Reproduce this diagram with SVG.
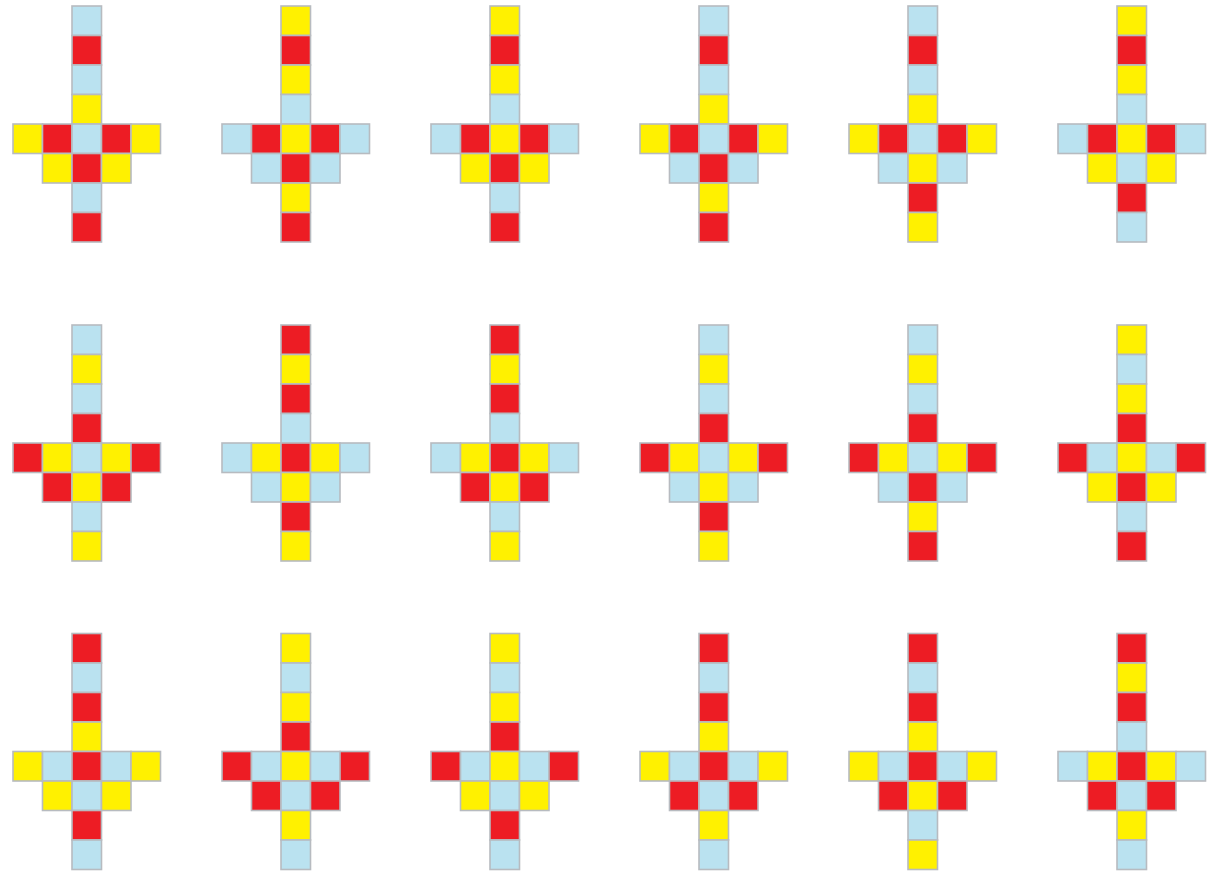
<svg xmlns="http://www.w3.org/2000/svg" width="1211" height="873" viewBox="0 0 1211 873">
<style>
rect{width:29.5px;height:29.5px;stroke:#B7BBC0;stroke-width:1.6}
.b{fill:#BAE2F0}.r{fill:#ED1C24}.y{fill:#FFF100}
</style>
<rect x="0" y="0" width="1211" height="873" fill="#FFFFFF" style="width:1211px;height:873px;stroke:none"/>
<g id="s1" transform="translate(13,6)"><rect class="b" x="59" y="0"/><rect class="r" x="59" y="29.5"/><rect class="b" x="59" y="59"/><rect class="y" x="59" y="88.5"/><rect class="y" x="0" y="118"/><rect class="r" x="29.5" y="118"/><rect class="b" x="59" y="118"/><rect class="r" x="88.5" y="118"/><rect class="y" x="118" y="118"/><rect class="y" x="29.5" y="147.5"/><rect class="r" x="59" y="147.5"/><rect class="y" x="88.5" y="147.5"/><rect class="b" x="59" y="177"/><rect class="r" x="59" y="206.5"/></g>
<g id="s2" transform="translate(222,6)"><rect class="y" x="59" y="0"/><rect class="r" x="59" y="29.5"/><rect class="y" x="59" y="59"/><rect class="b" x="59" y="88.5"/><rect class="b" x="0" y="118"/><rect class="r" x="29.5" y="118"/><rect class="y" x="59" y="118"/><rect class="r" x="88.5" y="118"/><rect class="b" x="118" y="118"/><rect class="b" x="29.5" y="147.5"/><rect class="r" x="59" y="147.5"/><rect class="b" x="88.5" y="147.5"/><rect class="y" x="59" y="177"/><rect class="r" x="59" y="206.5"/></g>
<g id="s3" transform="translate(431,6)"><rect class="y" x="59" y="0"/><rect class="r" x="59" y="29.5"/><rect class="y" x="59" y="59"/><rect class="b" x="59" y="88.5"/><rect class="b" x="0" y="118"/><rect class="r" x="29.5" y="118"/><rect class="y" x="59" y="118"/><rect class="r" x="88.5" y="118"/><rect class="b" x="118" y="118"/><rect class="y" x="29.5" y="147.5"/><rect class="r" x="59" y="147.5"/><rect class="y" x="88.5" y="147.5"/><rect class="b" x="59" y="177"/><rect class="r" x="59" y="206.5"/></g>
<g id="s4" transform="translate(640,6)"><rect class="b" x="59" y="0"/><rect class="r" x="59" y="29.5"/><rect class="b" x="59" y="59"/><rect class="y" x="59" y="88.5"/><rect class="y" x="0" y="118"/><rect class="r" x="29.5" y="118"/><rect class="b" x="59" y="118"/><rect class="r" x="88.5" y="118"/><rect class="y" x="118" y="118"/><rect class="b" x="29.5" y="147.5"/><rect class="r" x="59" y="147.5"/><rect class="b" x="88.5" y="147.5"/><rect class="y" x="59" y="177"/><rect class="r" x="59" y="206.5"/></g>
<g id="s5" transform="translate(849,6)"><rect class="b" x="59" y="0"/><rect class="r" x="59" y="29.5"/><rect class="b" x="59" y="59"/><rect class="y" x="59" y="88.5"/><rect class="y" x="0" y="118"/><rect class="r" x="29.5" y="118"/><rect class="b" x="59" y="118"/><rect class="r" x="88.5" y="118"/><rect class="y" x="118" y="118"/><rect class="b" x="29.5" y="147.5"/><rect class="y" x="59" y="147.5"/><rect class="b" x="88.5" y="147.5"/><rect class="r" x="59" y="177"/><rect class="y" x="59" y="206.5"/></g>
<g id="s6" transform="translate(1058,6)"><rect class="y" x="59" y="0"/><rect class="r" x="59" y="29.5"/><rect class="y" x="59" y="59"/><rect class="b" x="59" y="88.5"/><rect class="b" x="0" y="118"/><rect class="r" x="29.5" y="118"/><rect class="y" x="59" y="118"/><rect class="r" x="88.5" y="118"/><rect class="b" x="118" y="118"/><rect class="y" x="29.5" y="147.5"/><rect class="b" x="59" y="147.5"/><rect class="y" x="88.5" y="147.5"/><rect class="r" x="59" y="177"/><rect class="b" x="59" y="206.5"/></g>
<g id="s7" transform="translate(13,325)"><rect class="b" x="59" y="0"/><rect class="y" x="59" y="29.5"/><rect class="b" x="59" y="59"/><rect class="r" x="59" y="88.5"/><rect class="r" x="0" y="118"/><rect class="y" x="29.5" y="118"/><rect class="b" x="59" y="118"/><rect class="y" x="88.5" y="118"/><rect class="r" x="118" y="118"/><rect class="r" x="29.5" y="147.5"/><rect class="y" x="59" y="147.5"/><rect class="r" x="88.5" y="147.5"/><rect class="b" x="59" y="177"/><rect class="y" x="59" y="206.5"/></g>
<g id="s8" transform="translate(222,325)"><rect class="r" x="59" y="0"/><rect class="y" x="59" y="29.5"/><rect class="r" x="59" y="59"/><rect class="b" x="59" y="88.5"/><rect class="b" x="0" y="118"/><rect class="y" x="29.5" y="118"/><rect class="r" x="59" y="118"/><rect class="y" x="88.5" y="118"/><rect class="b" x="118" y="118"/><rect class="b" x="29.5" y="147.5"/><rect class="y" x="59" y="147.5"/><rect class="b" x="88.5" y="147.5"/><rect class="r" x="59" y="177"/><rect class="y" x="59" y="206.5"/></g>
<g id="s9" transform="translate(431,325)"><rect class="r" x="59" y="0"/><rect class="y" x="59" y="29.5"/><rect class="r" x="59" y="59"/><rect class="b" x="59" y="88.5"/><rect class="b" x="0" y="118"/><rect class="y" x="29.5" y="118"/><rect class="r" x="59" y="118"/><rect class="y" x="88.5" y="118"/><rect class="b" x="118" y="118"/><rect class="r" x="29.5" y="147.5"/><rect class="y" x="59" y="147.5"/><rect class="r" x="88.5" y="147.5"/><rect class="b" x="59" y="177"/><rect class="y" x="59" y="206.5"/></g>
<g id="s10" transform="translate(640,325)"><rect class="b" x="59" y="0"/><rect class="y" x="59" y="29.5"/><rect class="b" x="59" y="59"/><rect class="r" x="59" y="88.5"/><rect class="r" x="0" y="118"/><rect class="y" x="29.5" y="118"/><rect class="b" x="59" y="118"/><rect class="y" x="88.5" y="118"/><rect class="r" x="118" y="118"/><rect class="b" x="29.5" y="147.5"/><rect class="y" x="59" y="147.5"/><rect class="b" x="88.5" y="147.5"/><rect class="r" x="59" y="177"/><rect class="y" x="59" y="206.5"/></g>
<g id="s11" transform="translate(849,325)"><rect class="b" x="59" y="0"/><rect class="y" x="59" y="29.5"/><rect class="b" x="59" y="59"/><rect class="r" x="59" y="88.5"/><rect class="r" x="0" y="118"/><rect class="y" x="29.5" y="118"/><rect class="b" x="59" y="118"/><rect class="y" x="88.5" y="118"/><rect class="r" x="118" y="118"/><rect class="b" x="29.5" y="147.5"/><rect class="r" x="59" y="147.5"/><rect class="b" x="88.5" y="147.5"/><rect class="y" x="59" y="177"/><rect class="r" x="59" y="206.5"/></g>
<g id="s12" transform="translate(1058,325)"><rect class="y" x="59" y="0"/><rect class="b" x="59" y="29.5"/><rect class="y" x="59" y="59"/><rect class="r" x="59" y="88.5"/><rect class="r" x="0" y="118"/><rect class="b" x="29.5" y="118"/><rect class="y" x="59" y="118"/><rect class="b" x="88.5" y="118"/><rect class="r" x="118" y="118"/><rect class="y" x="29.5" y="147.5"/><rect class="r" x="59" y="147.5"/><rect class="y" x="88.5" y="147.5"/><rect class="b" x="59" y="177"/><rect class="r" x="59" y="206.5"/></g>
<g id="s13" transform="translate(13,633.5)"><rect class="r" x="59" y="0"/><rect class="b" x="59" y="29.5"/><rect class="r" x="59" y="59"/><rect class="y" x="59" y="88.5"/><rect class="y" x="0" y="118"/><rect class="b" x="29.5" y="118"/><rect class="r" x="59" y="118"/><rect class="b" x="88.5" y="118"/><rect class="y" x="118" y="118"/><rect class="y" x="29.5" y="147.5"/><rect class="b" x="59" y="147.5"/><rect class="y" x="88.5" y="147.5"/><rect class="r" x="59" y="177"/><rect class="b" x="59" y="206.5"/></g>
<g id="s14" transform="translate(222,633.5)"><rect class="y" x="59" y="0"/><rect class="b" x="59" y="29.5"/><rect class="y" x="59" y="59"/><rect class="r" x="59" y="88.5"/><rect class="r" x="0" y="118"/><rect class="b" x="29.5" y="118"/><rect class="y" x="59" y="118"/><rect class="b" x="88.5" y="118"/><rect class="r" x="118" y="118"/><rect class="r" x="29.5" y="147.5"/><rect class="b" x="59" y="147.5"/><rect class="r" x="88.5" y="147.5"/><rect class="y" x="59" y="177"/><rect class="b" x="59" y="206.5"/></g>
<g id="s15" transform="translate(431,633.5)"><rect class="y" x="59" y="0"/><rect class="b" x="59" y="29.5"/><rect class="y" x="59" y="59"/><rect class="r" x="59" y="88.5"/><rect class="r" x="0" y="118"/><rect class="b" x="29.5" y="118"/><rect class="y" x="59" y="118"/><rect class="b" x="88.5" y="118"/><rect class="r" x="118" y="118"/><rect class="y" x="29.5" y="147.5"/><rect class="b" x="59" y="147.5"/><rect class="y" x="88.5" y="147.5"/><rect class="r" x="59" y="177"/><rect class="b" x="59" y="206.5"/></g>
<g id="s16" transform="translate(640,633.5)"><rect class="r" x="59" y="0"/><rect class="b" x="59" y="29.5"/><rect class="r" x="59" y="59"/><rect class="y" x="59" y="88.5"/><rect class="y" x="0" y="118"/><rect class="b" x="29.5" y="118"/><rect class="r" x="59" y="118"/><rect class="b" x="88.5" y="118"/><rect class="y" x="118" y="118"/><rect class="r" x="29.5" y="147.5"/><rect class="b" x="59" y="147.5"/><rect class="r" x="88.5" y="147.5"/><rect class="y" x="59" y="177"/><rect class="b" x="59" y="206.5"/></g>
<g id="s17" transform="translate(849,633.5)"><rect class="r" x="59" y="0"/><rect class="b" x="59" y="29.5"/><rect class="r" x="59" y="59"/><rect class="y" x="59" y="88.5"/><rect class="y" x="0" y="118"/><rect class="b" x="29.5" y="118"/><rect class="r" x="59" y="118"/><rect class="b" x="88.5" y="118"/><rect class="y" x="118" y="118"/><rect class="r" x="29.5" y="147.5"/><rect class="y" x="59" y="147.5"/><rect class="r" x="88.5" y="147.5"/><rect class="b" x="59" y="177"/><rect class="y" x="59" y="206.5"/></g>
<g id="s18" transform="translate(1058,633.5)"><rect class="r" x="59" y="0"/><rect class="y" x="59" y="29.5"/><rect class="r" x="59" y="59"/><rect class="b" x="59" y="88.5"/><rect class="b" x="0" y="118"/><rect class="y" x="29.5" y="118"/><rect class="r" x="59" y="118"/><rect class="y" x="88.5" y="118"/><rect class="b" x="118" y="118"/><rect class="r" x="29.5" y="147.5"/><rect class="b" x="59" y="147.5"/><rect class="r" x="88.5" y="147.5"/><rect class="y" x="59" y="177"/><rect class="b" x="59" y="206.5"/></g>
</svg>
